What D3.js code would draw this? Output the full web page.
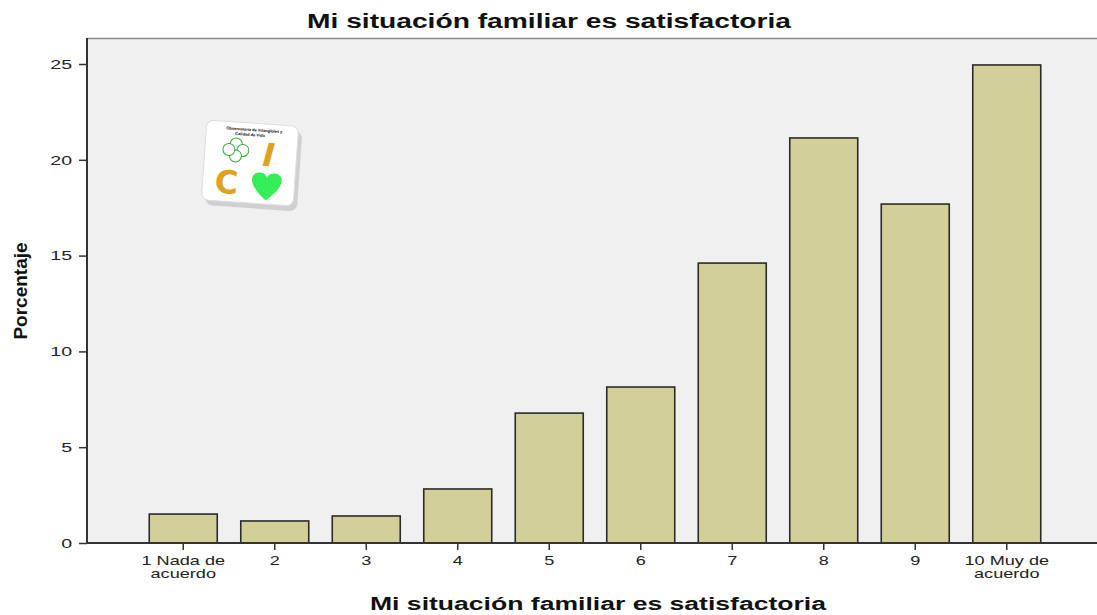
<!DOCTYPE html>
<html>
<head>
<meta charset="utf-8">
<script src="https://cdn.jsdelivr.net/npm/d3@7"></script>
<style>
  body { margin: 0; background: #fff; }
  svg { display: block; }
</style>
</head>
<body>
<div id="chart"></div>
<script>
// datos
const categorias = ['1 Nada de\nacuerdo', '2', '3', '4', '5', '6', '7', '8', '9', '10 Muy de\nacuerdo'];
const porcentajes = [1.51, 1.15, 1.41, 2.82, 6.78, 8.14, 14.61, 21.14, 17.69, 24.95];
const ticksY = [0, 5, 10, 15, 20, 25];
const titulo = 'Mi situación familiar es satisfactoria';
const tituloY = 'Porcentaje';

const width = 1097, height = 615;
const plot = { left: 87, top: 38, right: 1097, bottom: 543 };
// el grafico original esta estirado en horizontal
const estiro = 1.45;
const fuente = 'Liberation Sans, Arial, sans-serif';

const svg = d3.select('#chart').append('svg')
    .attr('width', width)
    .attr('height', height);

// fondo del area
svg.append('rect')
    .attr('x', plot.left).attr('y', plot.top)
    .attr('width', plot.right - plot.left).attr('height', plot.bottom - plot.top)
    .attr('fill', '#f0f0f0');
svg.append('line')
    .attr('x1', plot.left).attr('x2', plot.right)
    .attr('y1', plot.top + 0.5).attr('y2', plot.top + 0.5)
    .attr('stroke', '#888').attr('stroke-width', 1.5);

const x = d3.scaleBand()
    .domain(categorias)
    .range([137.5, 1052.5])
    .paddingInner(0.257)
    .paddingOuter(0.1285);

const y = d3.scaleLinear()
    .domain([0, 25])
    .range([plot.bottom, 64]);

// barras
svg.append('g')
    .selectAll('rect')
    .data(porcentajes)
    .enter()
    .append('rect')
    .attr('x', (d, i) => x(categorias[i]))
    .attr('y', (d) => y(d))
    .attr('width', x.bandwidth())
    .attr('height', (d) => y(0) - y(d))
    .attr('fill', '#d3cf98')
    .attr('stroke', '#2b2b2b')
    .attr('stroke-width', 1.6);

// eje Y
const ejeY = svg.append('g')
    .attr('transform', `translate(${plot.left},0)`)
    .call(d3.axisLeft(y).tickValues(ticksY).tickSize(8).tickSizeOuter(0));
ejeY.select('.domain').remove();
svg.append('line')
    .attr('x1', plot.left).attr('x2', plot.left)
    .attr('y1', plot.top).attr('y2', plot.bottom)
    .attr('stroke', '#333').attr('stroke-width', 2);
ejeY.selectAll('.tick line').attr('stroke', '#333').attr('stroke-width', 1.5);
ejeY.selectAll('.tick text')
    .attr('font-family', fuente)
    .attr('font-size', 13.5)
    .attr('fill', '#222')
    .attr('x', -15 / estiro)
    .attr('transform', `scale(${estiro},1)`);

// eje X
const ejeX = svg.append('g')
    .attr('transform', `translate(0,${plot.bottom})`)
    .call(d3.axisBottom(x).tickSize(7).tickSizeOuter(0));
ejeX.select('.domain').remove();
svg.append('line')
    .attr('x1', plot.left).attr('x2', plot.right)
    .attr('y1', plot.bottom).attr('y2', plot.bottom)
    .attr('stroke', '#333').attr('stroke-width', 2);
ejeX.selectAll('.tick line').attr('stroke', '#333').attr('stroke-width', 1.5);
ejeX.selectAll('.tick text').each(function (d) {
    const t = d3.select(this);
    const partes = d.split('\n');
    t.text(null)
        .attr('font-family', fuente)
        .attr('font-size', 12.5)
        .attr('fill', '#222')
        .attr('y', 22.5)
        .attr('dy', null)
        .attr('transform', `scale(${estiro},1)`);
    partes.forEach((p, i) => {
        t.append('tspan')
            .attr('x', 0)
            .attr('dy', i === 0 ? 0 : 12.5)
            .text(p);
    });
});

// titulos
svg.append('text')
    .attr('x', 549).attr('y', 28)
    .attr('text-anchor', 'middle')
    .attr('font-family', fuente)
    .attr('font-weight', 'bold')
    .attr('font-size', 19.5)
    .attr('fill', '#111')
    .attr('textLength', 484)
    .attr('lengthAdjust', 'spacingAndGlyphs')
    .text(titulo);

svg.append('text')
    .attr('x', 598).attr('y', 610)
    .attr('text-anchor', 'middle')
    .attr('font-family', fuente)
    .attr('font-weight', 'bold')
    .attr('font-size', 17.5)
    .attr('fill', '#111')
    .attr('textLength', 456)
    .attr('lengthAdjust', 'spacingAndGlyphs')
    .text(titulo);

svg.append('text')
    .attr('transform', 'translate(27,291) rotate(-90)')
    .attr('text-anchor', 'middle')
    .attr('font-family', 'Liberation Sans Narrow, Arial Narrow, sans-serif')
    .attr('font-weight', 'bold')
    .attr('font-size', 19)
    .attr('fill', '#111')
    .text(tituloY);

// logo
const logo = svg.append('g').attr('transform', 'translate(250,163) rotate(4)');
logo.append('rect')
    .attr('x', -44).attr('y', -38).attr('width', 92).attr('height', 80)
    .attr('rx', 7).attr('fill', '#bbb').attr('opacity', 0.6)
    .attr('transform', 'translate(2,3)');
logo.append('rect')
    .attr('x', -46).attr('y', -40).attr('width', 92).attr('height', 80)
    .attr('rx', 7).attr('fill', '#fff').attr('stroke', '#ddd');
logo.append('text')
    .attr('x', 2).attr('y', -32).attr('text-anchor', 'middle')
    .attr('font-size', 4).attr('font-weight', 'bold').attr('font-family', fuente)
    .text('Observatorio de Intangibles y');
logo.append('text')
    .attr('x', -2).attr('y', -27).attr('text-anchor', 'middle')
    .attr('font-size', 4).attr('font-weight', 'bold').attr('font-family', fuente)
    .text('Calidad de Vida');
const trebol = logo.append('g').attr('transform', 'translate(-15,-12)').attr('fill', '#fff').attr('stroke', '#3a3').attr('stroke-width', 1);
[[0, -6], [7, 0], [0, 6], [-7, 0]].forEach(([cx, cy]) => {
    trebol.append('circle').attr('cx', cx).attr('cy', cy).attr('r', 6);
});
logo.append('text')
    .attr('x', 18).attr('y', 2).attr('text-anchor', 'middle')
    .attr('font-family', 'DejaVu Sans, sans-serif').attr('font-weight', 'bold').attr('font-style', 'italic')
    .attr('font-size', 32).attr('fill', '#e0a020')
    .text('I');
logo.append('text')
    .attr('x', -22).attr('y', 32).attr('text-anchor', 'middle')
    .attr('font-family', 'DejaVu Sans, sans-serif').attr('font-weight', 'bold')
    .attr('font-size', 32).attr('fill', '#e0a020')
    .text('C');
logo.append('path')
    .attr('d', 'M18,36 C0,22 0,11 9,9 C15,8 18,12 18,14 C18,12 21,8 27,9 C36,11 36,22 18,36 Z')
    .attr('fill', '#33ee55');
</script>
</body>
</html>
